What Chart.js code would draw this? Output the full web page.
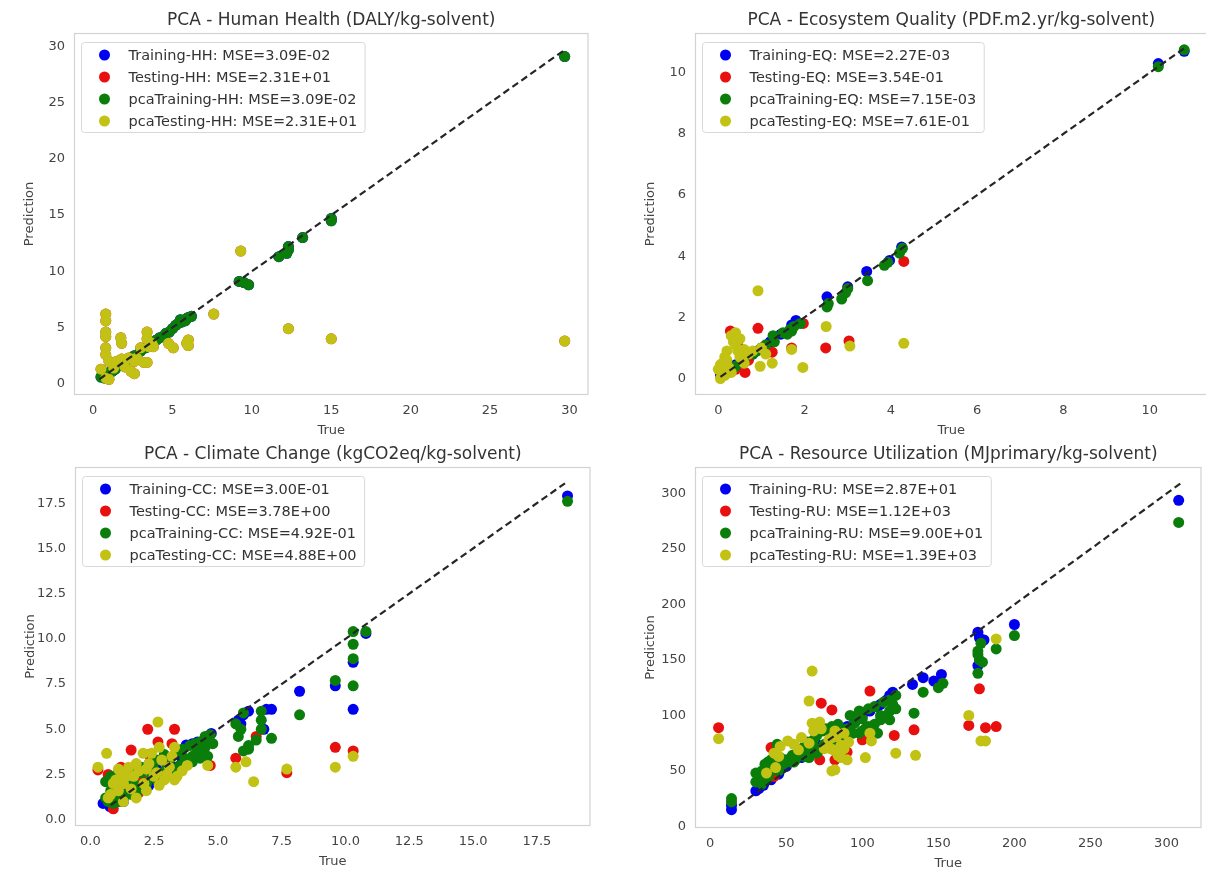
<!DOCTYPE html>
<html><head><meta charset="utf-8">
<script src="https://cdn.jsdelivr.net/npm/chart.js@4"></script>
<style>
html,body{margin:0;padding:0;background:#fff;overflow:hidden;width:1206px;height:873px;position:relative;}
canvas{position:absolute;}
</style></head><body>
<canvas id="c0"></canvas><canvas id="c1"></canvas><canvas id="c2"></canvas><canvas id="c3"></canvas>
<script>
// ---------- DATA ----------
const titles = ['PCA - Human Health (DALY/kg-solvent)','PCA - Ecosystem Quality (PDF.m2.yr/kg-solvent)','PCA - Climate Change (kgCO2eq/kg-solvent)','PCA - Resource Utilization (MJprimary/kg-solvent)'];
const hhLabels = ['Training-HH: MSE=3.09E-02','Testing-HH: MSE=2.31E+01','pcaTraining-HH: MSE=3.09E-02','pcaTesting-HH: MSE=2.31E+01'];
const eqLabels = ['Training-EQ: MSE=2.27E-03','Testing-EQ: MSE=3.54E-01','pcaTraining-EQ: MSE=7.15E-03','pcaTesting-EQ: MSE=7.61E-01'];
const ccLabels = ['Training-CC: MSE=3.00E-01','Testing-CC: MSE=3.78E+00','pcaTraining-CC: MSE=4.92E-01','pcaTesting-CC: MSE=4.88E+00'];
const ruLabels = ['Training-RU: MSE=2.87E+01','Testing-RU: MSE=1.12E+03','pcaTraining-RU: MSE=9.00E+01','pcaTesting-RU: MSE=1.39E+03'];

const hhXTicks = [0,5,10,15,20,25,30], hhYTicks = [0,5,10,15,20,25,30];
const eqXTicks = [0,2,4,6,8,10], eqYTicks = [0,2,4,6,8,10];
const ccXTicks = [0,2.5,5,7.5,10,12.5,15,17.5], ccYTicks = [0,2.5,5,7.5,10,12.5,15,17.5];
const ruXTicks = [0,50,100,150,200,250,300], ruYTicks = [0,50,100,150,200,250,300];

const hhIdentity = [0.4,29.7], eqIdentity = [0.05,10.85], ccIdentity = [0.8,18.6], ruIdentity = [19,310];

const hhTraining = [[0.5,0.6],[0.8,0.8],[1.0,1.0],[1.2,1.1],[1.4,1.3],[1.6,1.6],[1.8,1.8],[2.0,1.9],[2.3,2.2],[2.6,2.5],[3.0,2.9],[3.3,3.2],[3.6,3.5],[4.0,3.9],[4.2,4.1],[4.5,4.3],[4.6,4.5],[4.8,4.6],[5.0,4.9],[5.2,5.2],[5.4,5.4],[5.5,5.7],[5.6,5.5],[5.8,5.6],[5.9,5.8],[6.0,5.9],[6.2,6.0],[9.2,9.1],[9.5,9.0],[9.8,8.8],[11.7,11.3],[12.2,11.6],[12.3,11.9],[12.3,12.2],[13.2,13.0],[15.0,14.5],[15.0,14.7],[29.7,29.1]];
const hhTesting = [[0.5,1.3],[0.8,6.2],[0.8,5.6],[0.8,4.6],[0.8,4.2],[0.8,3.2],[0.8,2.6],[1.0,2.0],[0.8,0.5],[1.0,0.4],[1.3,1.4],[1.75,4.1],[1.8,3.6],[1.5,2.0],[1.8,2.2],[2.0,1.5],[2.6,0.9],[2.4,1.1],[2.25,2.3],[2.6,2.0],[2.75,2.3],[3.2,1.9],[3.4,1.9],[3.0,3.2],[3.4,4.6],[3.4,4.0],[3.5,3.3],[3.7,3.6],[3.8,3.3],[4.75,3.6],[5.05,3.2],[6.0,3.9],[6.0,3.4],[5.9,3.6],[7.6,6.2],[9.3,11.8],[12.3,4.9],[15.0,4.0],[29.7,3.8]];
const hhPcaTraining = [[0.5,0.6],[0.7,0.5],[0.8,0.8],[1.0,1.0],[1.2,1.1],[1.4,1.3],[1.6,1.6],[1.8,1.8],[2.0,1.9],[2.3,2.2],[2.6,2.5],[3.0,2.9],[3.3,3.2],[3.6,3.5],[4.0,3.9],[4.2,4.1],[4.5,4.3],[4.6,4.5],[4.8,4.6],[5.0,4.9],[5.2,5.2],[5.4,5.4],[5.5,5.7],[5.6,5.5],[5.8,5.6],[5.9,5.8],[6.0,5.9],[6.2,6.0],[9.2,9.1],[9.5,9.0],[9.8,8.8],[11.7,11.3],[12.2,11.6],[12.3,11.9],[12.3,12.2],[13.2,13.0],[15.0,14.5],[15.0,14.7],[29.7,29.1]];
const hhPcaTesting = [[0.5,1.3],[0.8,6.2],[0.8,5.6],[0.8,4.6],[0.8,4.2],[0.8,3.2],[0.8,2.6],[1.0,2.0],[0.8,0.5],[1.0,0.4],[1.3,1.4],[1.75,4.1],[1.8,3.6],[1.5,2.0],[1.8,2.2],[2.0,1.5],[2.6,0.9],[2.4,1.1],[2.25,2.3],[2.6,2.0],[2.75,2.3],[3.2,1.9],[3.4,1.9],[3.0,3.2],[3.4,4.6],[3.4,4.0],[3.5,3.3],[3.7,3.6],[3.8,3.3],[4.75,3.6],[5.05,3.2],[6.0,3.9],[6.0,3.4],[5.9,3.6],[7.6,6.2],[9.3,11.8],[12.3,4.9],[15.0,4.0],[29.7,3.8]];

const eqTraining = [[0.05,0.1],[0.1,0.15],[0.2,0.25],[0.3,0.3],[0.4,0.45],[0.5,0.5],[0.6,0.65],[0.8,0.8],[1.0,1.0],[1.2,1.2],[1.45,1.45],[1.7,1.75],[1.8,1.9],[2.52,2.67],[3.0,3.0],[3.44,3.5],[3.97,3.86],[4.25,4.3],[10.2,10.3],[10.8,10.7]];
const eqTesting = [[0.1,0.2],[0.2,0.5],[0.28,1.55],[0.4,0.3],[0.46,1.06],[0.62,0.2],[0.7,0.6],[0.92,1.64],[1.25,0.86],[1.7,1.0],[1.97,1.8],[2.49,1.0],[3.03,1.23],[4.3,3.83]];
const eqPcaTraining = [[0.1,0.1],[0.2,0.2],[0.4,0.4],[0.6,0.6],[0.8,0.8],[0.9,0.9],[1.0,1.0],[1.1,1.1],[1.27,1.4],[1.3,1.2],[1.5,1.5],[1.6,1.45],[1.66,1.6],[1.7,1.55],[1.75,1.7],[1.9,1.8],[2.52,2.34],[2.55,2.45],[2.86,2.6],[2.95,2.8],[3.0,2.94],[3.46,3.2],[3.85,3.7],[3.93,3.8],[4.2,4.1],[4.27,4.26],[10.2,10.2],[10.8,10.75]];
const eqPcaTesting = [[0.0,0.3],[0.05,0.0],[0.1,0.5],[0.15,0.1],[0.2,0.9],[0.2,0.6],[0.3,0.2],[0.3,1.4],[0.4,1.5],[0.4,1.1],[0.5,1.3],[0.5,0.7],[0.6,0.5],[0.6,0.95],[0.7,0.8],[0.8,0.9],[0.97,0.4],[0.92,2.87],[1.0,1.0],[1.1,0.8],[1.25,0.5],[1.7,0.95],[1.96,0.36],[2.5,1.7],[3.05,1.06],[4.3,1.15],[0.05,0.45],[0.15,0.7],[0.35,1.2],[0.45,0.9],[0.25,0.35],[0.1,0.25]];

const ccTraining = [[18.7,17.9],[10.8,10.3],[10.3,8.7],[10.3,6.1],[9.6,7.4],[8.2,7.1],[7.1,6.1],[6.9,6.1],[6.8,5.0],[5.8,5.5],[6.0,5.8],[6.2,6.0],[5.9,5.3],[4.74,4.77],[4.5,4.5],[4.2,4.3],[4.0,4.2],[3.76,4.13],[3.4,3.6],[3.0,3.2],[2.6,2.8],[2.0,2.2],[1.5,1.6],[1.0,1.1],[0.77,0.72],[0.5,0.9],[0.9,1.0],[1.2,1.3],[1.3,1.0],[1.8,1.4],[2.3,1.9],[2.8,2.3],[3.3,2.9],[3.6,3.2]];
const ccTesting = [[10.3,3.8],[9.6,4.0],[7.7,2.6],[6.5,4.6],[5.7,3.4],[4.7,3.0],[3.3,5.0],[2.25,5.0],[1.6,3.85],[2.65,4.3],[2.3,3.6],[3.2,4.2],[0.3,2.75],[1.2,2.9],[0.9,0.6],[1.9,1.5],[2.0,2.2],[1.4,1.9],[0.7,2.5],[3.5,2.8],[2.8,2.5]];
const ccPcaTraining = [[18.7,17.6],[10.8,10.4],[10.3,10.4],[10.3,9.7],[10.3,8.9],[10.3,7.4],[9.6,7.7],[8.2,5.8],[7.1,4.5],[6.7,6.0],[6.7,5.5],[6.7,5.0],[6.5,4.4],[6.2,3.9],[6.0,3.8],[5.8,4.6],[5.9,5.0],[5.7,5.3],[6.0,5.9],[6.2,4.1],[4.7,4.7],[4.6,4.4],[4.5,4.0],[4.4,3.7],[4.0,3.5],[3.7,3.4],[3.5,3.0],[3.2,2.8],[3.0,3.0],[2.8,2.6],[2.5,2.8],[2.4,2.4],[2.2,2.0],[2.0,2.6],[1.8,1.9],[1.6,1.7],[1.4,1.4],[1.2,2.0],[1.0,1.2],[0.9,1.5],[0.7,1.0],[0.6,2.1],[0.8,2.4],[1.1,2.6],[4.2,3.8],[3.9,3.3],[4.8,4.2],[4.6,3.5],[0.6,1.2],[0.8,1.6],[1.0,1.9],[1.3,2.3],[1.5,2.2],[1.7,2.6],[2.0,2.9],[2.3,3.1],[2.6,3.3],[2.9,3.6],[3.1,3.3],[3.4,3.7],[3.6,3.9],[3.9,4.1],[4.1,4.2],[4.3,4.3],[4.5,4.6],[4.7,4.3],[0.9,0.9],[1.1,1.0],[1.3,1.2],[1.6,1.4],[1.9,1.6],[2.1,1.8],[2.6,2.2],[3.3,2.6],[3.7,3.0],[4.0,3.2],[4.3,3.4]];
const ccPcaTesting = [[10.3,3.5],[9.6,2.9],[7.7,2.8],[6.4,2.1],[6.1,3.2],[5.7,2.9],[4.6,3.0],[2.65,5.4],[2.07,3.67],[2.4,3.67],[0.64,3.67],[0.3,2.9],[3.3,4.0],[2.7,4.0],[1.8,3.1],[1.5,2.9],[1.2,2.6],[1.0,2.2],[1.3,2.0],[1.7,2.4],[2.1,2.0],[2.5,2.4],[3.0,2.5],[3.4,2.4],[3.6,2.7],[3.8,3.0],[2.2,2.8],[1.1,1.6],[0.8,1.4],[1.6,1.7],[2.8,3.3],[3.1,2.9],[0.9,2.0],[1.1,2.8],[1.4,2.4],[1.9,2.7],[2.3,3.1],[2.6,2.6],[2.9,2.2],[3.2,3.5],[0.7,1.2],[1.3,1.0],[1.8,1.2],[2.2,1.6],[2.7,1.9],[3.3,2.2]];

const ruTraining = [[308,294],[200,182],[176,175],[177,170],[180,168],[176,145],[152,137],[147,131],[140,134],[133,128],[120,121],[118,118],[116,114],[112,110],[110,108],[105,104],[100,100],[95,95],[90,90],[80,82],[70,74],[60,62],[50,54],[45,47],[40,42],[35,37],[32,34],[30,32],[14,15],[14,19]];
const ruTesting = [[5.5,89],[105,122],[73,111],[80,105],[121,82],[134,87],[177,124],[170,91],[181,89],[188,90],[72,60],[82,60],[90,67],[40,71],[42,45],[100,78]];
const ruPcaTraining = [[308,274],[200,172],[188,160],[178,165],[176,158],[177,150],[179,148],[176,138],[176,155],[153,129],[150,125],[140,121],[134,102],[120,110],[118,104],[116,100],[112,96],[108,92],[104,90],[100,97],[95,93],[90,88],[86,80],[88,72],[82,70],[78,75],[75,74],[72,69],[68,72],[66,65],[62,63],[60,70],[56,60],[52,58],[48,56],[44,74],[44,52],[40,50],[38,58],[36,48],[34,46],[32,44],[30,40],[30,48],[34,38],[14,25],[14,22],[102,88],[106,86],[110,84],[98,84],[34,50],[36,56],[38,54],[40,60],[42,58],[46,62],[50,60],[54,64],[58,66],[62,72],[64,76],[68,78],[70,82],[74,86],[76,88],[80,90],[84,92],[92,100],[96,98],[98,104],[104,106],[108,108],[114,112],[118,114],[122,118],[35,42],[38,44],[45,50],[55,58],[65,62],[70,66],[84,76],[90,80],[94,84],[100,86],[112,100],[118,96],[122,106]];
const ruPcaTesting = [[5.5,79],[67,140],[65,113],[67,93],[72,94],[80,50],[82,51],[90,60],[102,62],[122,66],[135,64],[170,100],[178,77],[181,77],[188,169],[78,78],[83,81],[81,69],[86,73],[88,84],[51,77],[43,53],[37,48],[65,75],[73,88],[105,84],[106,77],[58,69],[45,63],[79,70],[84,64],[88,70],[91,76],[82,86],[86,62],[80,80],[68,86],[42,66],[46,72],[55,74],[60,80],[75,70]];

// ---------- RENDERING ----------
const FONT = '"DejaVu Sans", sans-serif';
const COLORS = ['#0000f0','#e8100e','#0a7d0a','#c2c214'];
const YW = 56, XH = 46, TH = 35, PR = 4;

const framePlugin = {
  id: 'frameLegend',
  afterDatasetsDraw(chart, args, opts) {
    const {ctx, chartArea: a} = chart;
    ctx.save();
    ctx.strokeStyle = '#d2d2d2';
    ctx.lineWidth = 1.2;
    ctx.strokeRect(a.left + 0.5, a.top + 0.5, a.width - 1, a.height - 1);
    const labels = opts.labels || [];
    ctx.font = '14.5px ' + FONT;
    const maxW = Math.max(...labels.map(t => ctx.measureText(t).width));
    const x0 = a.left + 7.5, y0 = a.top + 9.5;
    const w = 47 + maxW + 8, h = 90;
    ctx.beginPath();
    ctx.roundRect(x0, y0, w, h, 3);
    ctx.fillStyle = 'rgba(255,255,255,0.85)';
    ctx.fill();
    ctx.strokeStyle = '#d8d8d8';
    ctx.lineWidth = 1;
    ctx.stroke();
    labels.forEach((t, i) => {
      const cy = y0 + 12.5 + i * 22;
      ctx.beginPath();
      ctx.arc(x0 + 23, cy, 5.5, 0, Math.PI * 2);
      ctx.fillStyle = COLORS[i];
      ctx.fill();
      ctx.fillStyle = '#333';
      ctx.textBaseline = 'middle';
      ctx.textAlign = 'left';
      ctx.fillText(t, x0 + 47, cy + 1);
    });
    ctx.restore();
  }
};

function toPts(arr) { return arr.map(p => ({x: p[0], y: p[1]})); }

function panel(id, box, title, labels, series, identity, xr, yr, xticks, yticks, fmt) {
  const cv = document.getElementById(id);
  const W = YW + (box.R - box.L) + PR, H = TH + (box.B - box.T) + XH;
  cv.width = W; cv.height = H;
  cv.style.left = (box.L - YW) + 'px';
  cv.style.top = (box.T - TH) + 'px';
  const ds = series.map((s, i) => ({
    type: 'scatter', label: labels[i], data: toPts(s),
    backgroundColor: COLORS[i], borderWidth: 0, pointRadius: 5.5, pointHoverRadius: 5.5,
    order: 4 - i
  }));
  ds.push({
    type: 'line', label: 'identity', data: identity.map(v => ({x: v, y: v})),
    borderColor: '#262626', borderWidth: 2.2, borderDash: [7, 4], pointRadius: 0, fill: false, order: -1
  });
  const tickFont = {family: FONT, size: 13};
  new Chart(cv, {
    type: 'scatter',
    data: {datasets: ds},
    options: {
      responsive: false, animation: false, devicePixelRatio: 1,
      layout: {padding: {left: 0, right: PR, top: 0, bottom: 0}},
      plugins: {
        legend: {display: false}, tooltip: {enabled: false},
        title: {display: true, fullSize: false, text: title, color: '#333', font: {family: FONT, size: 17, weight: 'normal'}, padding: {top: 12.5, bottom: 2.1}},
        frameLegend: {labels: labels}
      },
      scales: {
        x: {
          type: 'linear', min: xr[0], max: xr[1],
          grid: {display: false, drawTicks: false}, border: {display: false},
          afterFit: s => { s.height = XH; },
          afterBuildTicks: s => { s.ticks = xticks.map(v => ({value: v})); },
          ticks: {padding: 8, color: '#444', font: tickFont, maxRotation: 0, autoSkip: false, callback: v => fmt(v)},
          title: {display: true, text: 'True', color: '#444', font: tickFont, padding: {top: 0, bottom: 3}}
        },
        y: {
          type: 'linear', min: yr[0], max: yr[1],
          grid: {display: false, drawTicks: false}, border: {display: false},
          afterFit: s => { s.width = YW; },
          afterBuildTicks: s => { s.ticks = yticks.map(v => ({value: v})); },
          ticks: {padding: 9, color: '#444', font: tickFont, autoSkip: false, callback: v => fmt(v)},
          title: {display: true, text: 'Prediction', color: '#444', font: tickFont, padding: {top: 4, bottom: 0}}
        }
      }
    },
    plugins: [framePlugin]
  });
}

const intFmt = v => String(Math.round(v));
const oneFmt = v => v.toFixed(1);

panel('c0', {L: 74, T: 33, R: 590, B: 395}, titles[0], hhLabels,
  [hhTraining, hhTesting, hhPcaTraining, hhPcaTesting], hhIdentity, [-1.2, 31.2], [-1.0, 31.2], hhXTicks, hhYTicks, intFmt);
panel('c1', {L: 695, T: 33, R: 1209, B: 395}, titles[1], eqLabels,
  [eqTraining, eqTesting, eqPcaTraining, eqPcaTesting], eqIdentity, [-0.54, 11.34], [-0.54, 11.3], eqXTicks, eqYTicks, intFmt);
panel('c2', {L: 75, T: 467, R: 592, B: 826}, titles[2], ccLabels,
  [ccTraining, ccTesting, ccPcaTraining, ccPcaTesting], ccIdentity, [-0.6, 19.6], [-0.35, 19.5], ccXTicks, ccYTicks, oneFmt);
panel('c3', {L: 695, T: 467, R: 1203, B: 828}, titles[3], ruLabels,
  [ruTraining, ruTesting, ruPcaTraining, ruPcaTesting], ruIdentity, [-10, 323], [-1.5, 324], ruXTicks, ruYTicks, intFmt);
</script>
</body></html>
